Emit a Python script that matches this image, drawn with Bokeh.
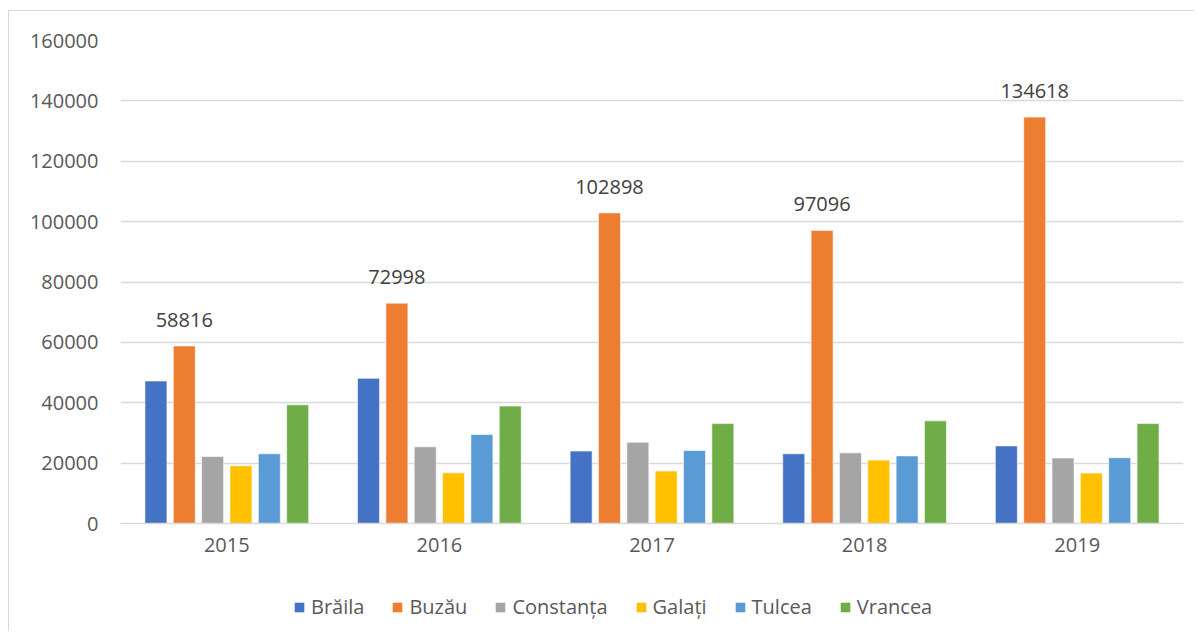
from bokeh.plotting import figure
from bokeh.layouts import column
from bokeh.models import (ColumnDataSource, FactorRange, Range1d, FixedTicker, BasicTickFormatter,
                          LabelSet, Legend, LegendItem)
from bokeh.core.properties import value
from bokeh.transform import dodge
from bokeh.embed import file_html
from bokeh.resources import INLINE

years = ["2015", "2016", "2017", "2018", "2019"]
counties = ["Brăila", "Buzău", "Constanța", "Galați", "Tulcea", "Vrancea"]
braila = [47200, 48100, 24000, 23100, 25700]
buzau = [58816, 72998, 102898, 97096, 134618]
constanta = [22200, 25400, 26900, 23400, 21700]
galati = [19100, 16800, 17400, 21000, 16700]
tulcea = [23100, 29500, 24200, 22400, 21800]
vrancea = [39300, 38900, 33100, 34000, 33100]
colors = ["#4472C4", "#ED7D31", "#A5A5A5", "#FFC000", "#5B9BD5", "#70AD47"]
y_ticks = [0, 20000, 40000, 60000, 80000, 100000, 120000, 140000, 160000]

series = [braila, buzau, constanta, galati, tulcea, vrancea]
data = {"year": years}
for c, s in zip(counties, series):
    data[c] = s
data["buzau_label"] = [str(v) for v in buzau]
source = ColumnDataSource(data)

FONT = "Open Sans"
W = 1185

p = figure(x_range=FactorRange(*years, range_padding=0), y_range=Range1d(0, 160000),
           width=W, height=560, output_backend="svg", toolbar_location=None,
           min_border_left=111, min_border_right=11, min_border_top=29, min_border_bottom=48)
p.outline_line_color = None
p.background_fill_color = "white"

pitch = 0.1333
bw = 0.1035
for i, (c, col) in enumerate(zip(counties, colors)):
    off = (i - 2.5) * pitch
    p.vbar(x=dodge("year", off, range=p.x_range), top=c, width=bw, source=source,
           fill_color=col, line_color="white", line_width=0.6)

labels = LabelSet(x=dodge("year", -1.5 * pitch, range=p.x_range), y="Buzău", text="buzau_label",
                  source=source, text_align="center", text_baseline="alphabetic", y_offset=19,
                  text_font=value(FONT), text_font_size=value("20px"), text_color="#404040")
p.add_layout(labels)

p.xgrid.grid_line_color = None
p.ygrid.grid_line_color = "#d9d9d9"
p.ygrid.grid_line_width = 1.5
p.yaxis.ticker = FixedTicker(ticks=y_ticks)
p.yaxis.formatter = BasicTickFormatter(use_scientific=False)
p.yaxis.axis_line_color = None
p.yaxis.major_tick_line_color = None
p.yaxis.minor_tick_line_color = None
p.yaxis.major_tick_out = 0
p.yaxis.major_label_standoff = 22
p.yaxis.major_label_text_font = FONT
p.yaxis.major_label_text_font_size = "20px"
p.yaxis.major_label_text_color = "#595959"

p.xaxis.axis_line_color = "#d9d9d9"
p.xaxis.axis_line_width = 1.5
p.xaxis.major_tick_line_color = None
p.xaxis.major_tick_out = 0
p.xaxis.major_label_standoff = 14
p.xaxis.major_label_text_font = FONT
p.xaxis.major_label_text_font_size = "20px"
p.xaxis.major_label_text_color = "#595959"

# legend strip (dummy off-screen renderers carry the legend swatches)
q = figure(width=W, height=60, output_backend="svg", toolbar_location=None,
           x_range=Range1d(0, W), y_range=Range1d(0, 60), x_axis_type=None, y_axis_type=None,
           min_border_left=0, min_border_right=0, min_border_top=0, min_border_bottom=0)
q.outline_line_color = None
q.xgrid.grid_line_color = None
q.ygrid.grid_line_color = None
items = []
for c, col in zip(counties, colors):
    r = q.vbar(x=[-5000], top=[-5000], width=1, fill_color=col, line_color=None)
    items.append(LegendItem(label=c, renderers=[r]))
lg = Legend(items=items, orientation="horizontal", location=(173, 11), padding=0, margin=0,
            spacing=27, glyph_width=12, glyph_height=12, label_standoff=6,
            label_text_font=FONT, label_text_font_size="20px", label_text_color="#595959",
            border_line_color=None, background_fill_alpha=0)
q.add_layout(lg)

layout = column(p, q, spacing=0)
layout.styles = {"margin-left": "8px", "margin-top": "10px",
                 "border-left": "1px solid #d9d9d9", "border-top": "1px solid #d9d9d9"}

open("out.html", "w").write(file_html(layout, INLINE))
